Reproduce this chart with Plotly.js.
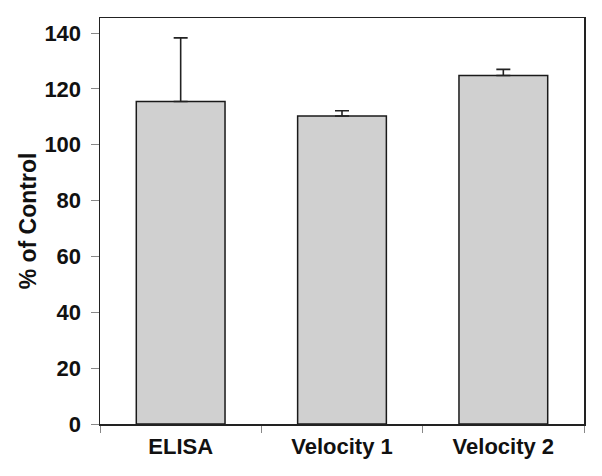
<!DOCTYPE html>
<html>
<head>
<meta charset="utf-8">
<script src="https://cdn.plot.ly/plotly-3.0.1.min.js"></script>
<style>html,body{margin:0;padding:0;background:#fff;}#chart{width:602px;height:476px;}</style>
</head>
<body>
<div id="chart"></div>
<script>
const categories = ["ELISA", "Velocity 1", "Velocity 2"];
const percentOfControl = [115.5, 110.3, 124.8];
const errorUpper = [22.8, 1.9, 2.2];
const errorLower = [0, 0, 0];
const yTickValues = [0, 20, 40, 60, 80, 100, 120, 140];

const trace = {
  type: "bar",
  x: categories,
  y: percentOfControl,
  width: 0.55,
  marker: {color: "#d0d0d0", line: {color: "#1a1a1a", width: 1.5}},
  error_y: {type: "data", symmetric: false, array: errorUpper, arrayminus: errorLower,
            color: "#222", thickness: 1.6, width: 7},
  hoverinfo: "none"
};

const fam = "Liberation Sans, Arial, sans-serif";

const layout = {
  width: 602, height: 476,
  margin: {l: 100, r: 18, t: 18, b: 52},
  paper_bgcolor: "#fff", plot_bgcolor: "#fff",
  showlegend: false,
  font: {family: fam, size: 22, color: "#111"},
  xaxis: {
    type: "category", range: [-0.5, 2.5], tickson: "boundaries",
    showline: true, linecolor: "#222", linewidth: 1.5, mirror: true,
    ticks: "outside", ticklen: 7, tickcolor: "#888", tickwidth: 1,
    showgrid: false, zeroline: false,
    tickfont: {family: fam, size: 22, color: "#111", weight: "bold"},
    ticklabelstandoff: 2
  },
  yaxis: {
    range: [0, 145.4], tickmode: "array", tickvals: yTickValues,
    showline: true, linecolor: "#222", linewidth: 1.5, mirror: true,
    ticks: "outside", ticklen: 8, tickcolor: "#888", tickwidth: 1,
    showgrid: false, zeroline: false,
    tickfont: {family: fam, size: 22, color: "#111", weight: "bold"},
    ticklabelstandoff: 5,
    title: {text: "% of Control", font: {family: fam, size: 23, color: "#111", weight: "bold"}, standoff: 1}
  }
};

Plotly.newPlot("chart", [trace], layout, {displayModeBar: false, staticPlot: true});
</script>
</body>
</html>
